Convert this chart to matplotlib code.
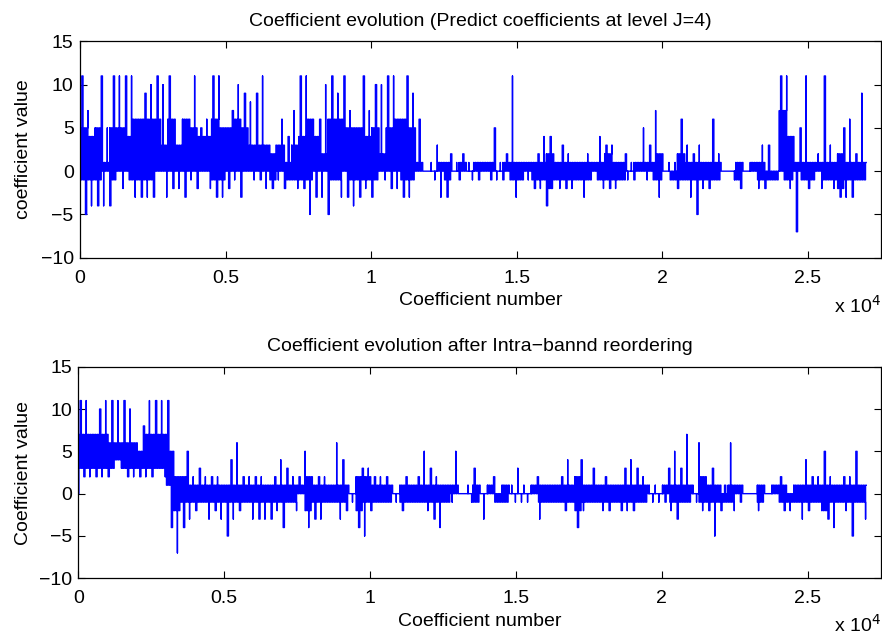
import matplotlib
matplotlib.use('Agg')
import matplotlib.pyplot as plt
import numpy as np

plt.rcParams['font.family'] = ['Liberation Sans', 'DejaVu Sans']

# coefficients in bins of 250 coefficients
bin_width = 250

# top panel: max / min per bin, and the dense band per bin
top_hi = [11, 7, 11, 5, 11, 11, 11, 11, 9, 10,
          11, 10, 11, 5, 6, 11, 5, 6, 11, 11,
          7, 10, 9, 8, 9, 11, 3, 6, 4, 7,
          11, 11, 6, 10, 11, 9, 11, 7, 11, 7,
          10, 10, 11, 11, 11, 9, 6, 0, 1, 3,
          2, 1, 2, 1, 1, 1, 5, 1, 2, 11,
          1, 1, 2, 4, 4, 1, 3, 2, 1, 2,
          1, 4, 3, 3, 2, 1, 1, 5, 3, 7,
          1, 1, 6, 3, 2, 3, 6, 2, 0, 0,
          1, 0, 1, 3, 3, 0, 11, 11, 5, 11,
          1, 2, 11, 3, 5, 6, 2, 9]
top_lo = [-5, -4, -4, -4, -4, -2, -1, -3, -3, -3,
          -3, -3, -2, -2, -3, -1, -2, -2, -3, -3,
          -2, -1, -3, -1, -1, -2, -2, -1, -2, -2,
          -2, -5, -3, -3, -5, -3, -3, -4, -3, -2,
          -3, -1, -2, -2, -3, -3, 0, 0, -1, -3,
          -3, 0, -1, -1, -1, 0, -1, -1, -1, -3,
          -1, -1, -2, -2, -4, -2, -2, -2, -1, -3,
          -1, -2, -2, -2, -1, -1, -1, -1, -1, -3,
          0, -1, -2, -3, -5, -2, -2, -1, 0, -1,
          -2, 0, 0, -2, -2, -1, -1, -2, -7, -1,
          -2, -2, -1, -2, -3, -3, -3, -1]
top_band_hi = [5, 4, 5, 1, 5, 5, 4, 6, 6, 6,
               6, 3, 6, 3, 6, 5, 4, 4, 6, 5,
               5, 6, 5, 3, 3, 3, 2, 3, 1, 3,
               4, 6, 4, 2, 6, 6, 5, 5, 5, 4,
               5, 2, 5, 6, 6, 5, 1, 0, 0, 1,
               1, 0, 1, 0, 1, 1, 1, 0, 1, 1,
               1, 1, 1, 1, 2, 1, 1, 1, 1, 1,
               1, 1, 2, 1, 1, 0, 1, 1, 1, 2,
               0, 0, 2, 1, 1, 1, 1, 1, 0, 0,
               1, 0, 1, 1, 0, 0, 7, 4, 1, 1,
               1, 1, 1, 1, 2, 1, 1, 1]
top_band_lo = [-1, -1, -1, 0, -1, 0, 0, -1, -1, -1,
               0, 0, 0, 0, 0, 0, 0, 0, -1, -1,
               0, 0, 0, 0, 0, 0, -1, 0, -1, -1,
               -1, -1, 0, 0, -1, -1, 0, -1, -1, -1,
               -1, 0, 0, 0, -1, -1, 0, 0, 0, 0,
               -1, 0, 0, 0, 0, 0, 0, 0, 0, -1,
               -1, 0, -1, -1, -2, -1, -1, -1, -1, -1,
               0, -1, -1, -1, -1, 0, 0, 0, 0, -1,
               0, -1, -1, -1, -1, -1, -1, -1, 0, 0,
               -1, 0, 0, -1, -1, -1, 0, -1, 0, -1,
               -1, 0, -1, -1, -2, -1, -1, -1]

# bottom panel (after intra-band reordering)
bot_hi = [11, 11, 10, 11, 11, 11, 11, 10, 8, 11,
          11, 11, 11, 3, 5, 2, 3, 2, 2, 2,
          4, 6, 2, 2, 2, 2, 2, 4, 3, 2,
          2, 5, 2, 2, 1, 6, 4, 1, 3, 3,
          2, 2, 2, 1, 2, 1, 2, 5, 3, 2,
          1, 5, 0, 1, 3, 0, 2, 0, 1, 1,
          3, 1, 2, 1, 1, 1, 2, 4, 4, 1,
          3, 1, 2, 1, 3, 4, 3, 2, 1, 1,
          3, 5, 3, 7, 1, 6, 3, 1, 1, 6,
          1, 0, 0, 1, 0, 1, 2, 0, 1, 4,
          2, 2, 5, 2, 2, 2, 5, 1]
bot_lo = [2, 2, 2, 2, 2, 3, 2, 2, 2, 2,
          2, 2, -4, -7, -4, -3, -2, -3, -2, -3,
          -5, -3, -2, -3, -3, -3, -3, -2, -4, -2,
          0, -4, -3, -3, -1, -3, -2, -1, -4, -5,
          -2, -1, -1, -1, -2, -1, -1, -2, -3, -4,
          -1, -1, 0, -1, -1, -3, 0, -1, -1, -1,
          -1, -1, 0, -3, -1, -1, -2, -1, -4, -2,
          -1, -2, -2, -1, -2, -2, -2, -1, -1, -1,
          -1, -2, -3, -1, -1, -2, -2, -5, -2, -2,
          -1, 0, 0, -2, 0, 0, -2, -2, -1, -3,
          -2, -2, -3, -4, -1, -2, -5, -3]
bot_band_hi = [7, 7, 7, 7, 6, 6, 6, 6, 5, 7,
               7, 7, 5, 2, 2, 1, 1, 1, 1, 1,
               1, 1, 1, 1, 1, 1, 1, 1, 1, 1,
               1, 2, 1, 1, 1, 1, 1, 0, 2, 2,
               1, 1, 1, 0, 1, 1, 1, 1, 1, 1,
               1, 1, 0, 0, 1, 0, 1, 0, 1, 0,
               0, 0, 1, 1, 1, 1, 1, 1, 2, 1,
               1, 1, 1, 1, 1, 1, 1, 1, 0, 0,
               1, 1, 1, 1, 0, 2, 1, 1, 0, 1,
               1, 0, 0, 1, 0, 1, 1, 0, 1, 1,
               1, 1, 1, 1, 1, 1, 1, 1]
bot_band_lo = [3, 3, 3, 3, 3, 4, 3, 3, 3, 3,
               3, 3, 1, -2, -1, -1, -1, -1, -1, -1,
               -1, -1, -1, -1, -1, -1, -1, -1, -1, -1,
               0, -2, -1, -1, -1, -1, -1, 0, -2, -1,
               -1, -1, -1, 0, -1, -1, -1, -1, -1, -1,
               -1, 0, 0, 0, -1, 0, 0, -1, -1, 0,
               0, 0, 0, -1, -1, -1, -1, -1, -2, -1,
               -1, -1, -1, -1, -1, -1, -1, -1, 0, 0,
               0, -1, -1, -1, 0, -1, -1, -1, -1, -1,
               0, 0, 0, -1, 0, 0, -1, -1, -1, -1,
               -1, -1, -2, -1, -1, -1, -1, -1]


def trace(hi, lo, band_hi, band_lo, teeth=6):
  # turn the per-bin readings into a dense vertical trace like the original plot
  xs = [0]
  ys = [0]
  y_cur = 0
  for i in range(len(hi)):
    x0 = i * bin_width
    up_at = (i * 5 + 1) % teeth     # which tooth carries the max / min,
    down_at = (i * 5 + 4) % teeth   # shuffled so spikes are not evenly spaced
    for k in range(teeth):
      xk = x0 + (k + 0.5) * bin_width / teeth
      if k % 2 == 0:
        a, b = band_hi[i], band_lo[i]
      else:
        a, b = band_lo[i], band_hi[i]
      if k == up_at:
        a = max(a, hi[i]) if a >= b else a
        b = max(b, hi[i]) if b > a else b
      if k == down_at:
        a = min(a, lo[i]) if a <= b else a
        b = min(b, lo[i]) if b < a else b
      xs += [xk, xk, xk]
      ys += [y_cur, a, b]
      y_cur = b
  xs += [len(hi) * bin_width]
  ys += [y_cur]
  return np.array(xs), np.array(ys)


def style_axes(ax, title, ylabel, ypad):
  ax.set_xlim(0, 27500)
  ax.set_ylim(-10, 15)
  ax.set_xticks([0, 5000, 10000, 15000, 20000, 25000])
  ax.set_xticklabels(['0', '0.5', '1', '1.5', '2', '2.5'])
  ax.set_yticks([-10, -5, 0, 5, 10, 15])
  ax.tick_params(direction='in', length=5, width=0.8, labelsize=14,
                 top=True, right=True)
  ax.tick_params(axis='x', pad=8.5)
  ax.tick_params(axis='y', pad=4.5)
  for s in ax.spines.values():
    s.set_linewidth(0.9)
  ax.set_title(title, fontsize=14, pad=11)
  ax.set_xlabel('Coefficient number', fontsize=14, labelpad=4)
  ax.set_ylabel(ylabel, fontsize=14, labelpad=ypad)
  ax.text(1.0, -0.17, r'x 10$^4$', transform=ax.transAxes, fontsize=14,
          ha='right', va='top')


fig = plt.figure(figsize=(8.82, 6.39), dpi=100)

ax1 = fig.add_axes([0.0907, 0.5967, 0.9078, 0.3386])
x, y = trace(top_hi, top_lo, top_band_hi, top_band_lo)
ax1.plot(x, y, color='#0000ff', linewidth=1.0)
style_axes(ax1, 'Coefficient evolution (Predict coefficients at level J=4)',
           'coefficient value', 6.5)

ax2 = fig.add_axes([0.0888, 0.0950, 0.9098, 0.3311])
x, y = trace(bot_hi, bot_lo, bot_band_hi, bot_band_lo)
ax2.plot(x, y, color='#0000ff', linewidth=1.0)
style_axes(ax2, 'Coefficient evolution after Intra\u2212bannd reordering',
           'Coefficient value', 5)

fig.savefig('out.png', dpi=100)
